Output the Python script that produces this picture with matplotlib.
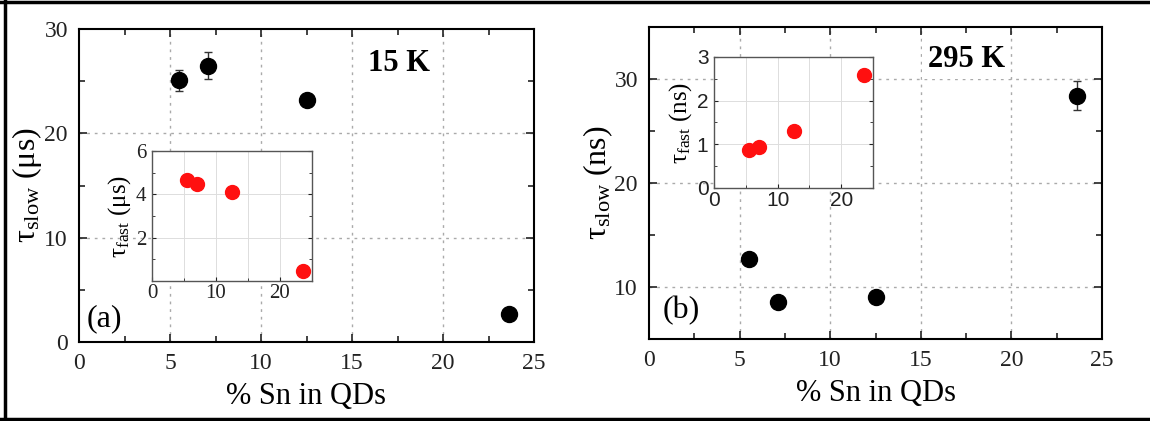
import numpy as np
import matplotlib as mpl; mpl.use('Agg')
import matplotlib.pyplot as plt
from matplotlib.ticker import MultipleLocator
from matplotlib.lines import Line2D

plt.rcParams.update({'font.family':'Liberation Serif','mathtext.fontset':'custom',
                     'mathtext.rm':'Liberation Serif','mathtext.it':'Liberation Serif:italic',
                     'xtick.direction':'in','ytick.direction':'in'})

# (a) 15 K
sn_a = [5.5, 7.1, 12.5, 23.6]
slow_a = [25.1, 26.5, 23.2, 2.7]
slow_a_err = [1.0, 1.3, 0, 0]
fast_a = [4.68, 4.5, 4.1, 0.47]
# (b) 295 K
sn_b = [5.5, 7.1, 12.5, 23.6]
slow_b = [12.7, 8.6, 9.0, 28.4]
slow_b_err = [0, 0, 0, 1.4]
fast_b = [0.88, 0.94, 1.3, 2.58]

W, H = 1150, 421
fig = plt.figure(figsize=(W/100, H/100), dpi=100)

def frac(x0, x1, y0, y1):
    return [x0/W, 1-y1/H, (x1-x0)/W, (y1-y0)/H]

def style_main(ax, ylim, yticks):
    ax.set_xlim(0, 25); ax.set_ylim(*ylim)
    ax.set_xticks([0, 5, 10, 15, 20, 25]); ax.set_yticks(yticks)
    ax.xaxis.set_minor_locator(MultipleLocator(2.5)); ax.yaxis.set_minor_locator(MultipleLocator(5))
    ax.tick_params(which='both', top=True, right=True, labelsize=17, colors='#222222', width=1.2)
    ax.tick_params(which='major', length=6, pad=8); ax.tick_params(which='minor', length=4)
    for s in ax.spines.values(): s.set_linewidth(1.5)
    for v in [5, 10, 15, 20]:
        ax.axvline(v, color='#aaaaaa', ls=(0, (2, 3.5)), lw=1, zorder=0)
    for v in yticks:
        if ylim[0] < v < ylim[1]:
            ax.axhline(v, color='#aaaaaa', ls=(0, (2, 3.5)), lw=1, zorder=0)
    ax.set_xlabel('% Sn in QDs', fontsize=22, labelpad=6)

def style_inset(ax, ylim, yticks, ylabel, sans):
    ax.set_xlim(0, 25); ax.set_ylim(*ylim)
    ax.set_xticks([0, 10, 20]); ax.set_yticks(yticks)
    ax.xaxis.set_minor_locator(MultipleLocator(5))
    ax.tick_params(which='both', top=False, right=True, labelsize=15, colors='#222222', length=3, pad=2)
    ax.tick_params(axis='y', pad=4)
    ax.tick_params(which='minor', length=2)
    if sans:
        for t in ax.get_xticklabels() + ax.get_yticklabels(): t.set_family('Liberation Sans')
    for s in ax.spines.values(): s.set_linewidth(1.0); s.set_color('#555555')
    ax.grid(True, which='major', color='#dddddd', lw=0.7)
    ax.grid(True, which='minor', axis='x', color='#dddddd', lw=0.7)
    ax.set_axisbelow(True)
    ax.set_ylabel(ylabel, fontsize=18, labelpad=2)

# ---------- (a) ----------
ax1 = fig.add_axes(frac(79, 534, 29, 342))
style_main(ax1, (0, 30), [0, 10, 20, 30])
ax1.errorbar(sn_a, slow_a, yerr=slow_a_err, fmt='o', color='black', ms=11.5,
             ecolor='#333333', elinewidth=1, capsize=3, zorder=3)
ax1.set_ylabel(r'τ$_{\mathrm{slow}}$ (μs)', fontsize=23)
ax1.yaxis.set_label_coords(-0.078, 0.5)
ax1.text(17.6, 26.7, '15 K', fontsize=22, fontweight='bold', ha='center', va='center',
         bbox=dict(fc='white', ec='none', pad=4))
ax1.text(1.4, 2.2, '(a)', fontsize=23, ha='center', va='center')

in1 = fig.add_axes(frac(152, 312, 151, 281))
in1.plot(sn_a, fast_a, 'o', color='#ff1010', ms=10)
style_inset(in1, (0, 6), [2, 4, 6], r'τ$_{\mathrm{fast}}$ (μs)', False)
in1.yaxis.set_minor_locator(MultipleLocator(1))

# ---------- (b) ----------
ax2 = fig.add_axes(frac(649, 1102, 27, 339))
style_main(ax2, (5, 35), [10, 20, 30])
ax2.errorbar(sn_b, slow_b, yerr=slow_b_err, fmt='o', color='black', ms=11.5,
             ecolor='#333333', elinewidth=1, capsize=3, zorder=3)
ax2.set_ylabel(r'τ$_{\mathrm{slow}}$ (ns)', fontsize=23)
ax2.yaxis.set_label_coords(-0.075, 0.5)
ax2.text(17.5, 31.9, '295 K', fontsize=22, fontweight='bold', ha='center', va='center',
         bbox=dict(fc='white', ec='none', pad=4))
ax2.text(1.8, 7.7, '(b)', fontsize=23, ha='center', va='center')

in2 = fig.add_axes(frac(714, 873, 57, 188))
in2.plot(sn_b, fast_b, 'o', color='#ff1010', ms=10)
style_inset(in2, (0, 3), [0, 1, 2, 3], r'τ$_{\mathrm{fast}}$ (ns)', True)
in2.yaxis.set_minor_locator(MultipleLocator(0.5))

# outer frame
for xs, ys in [([5/W, 5/W], [0, 1]), ([0, 1], [1-1.5/H, 1-1.5/H]), ([0, 1], [2/H, 2/H])]:
    fig.add_artist(Line2D(xs, ys, color='black', lw=2.5, transform=fig.transFigure))

plt.savefig('out.png', dpi=100)
